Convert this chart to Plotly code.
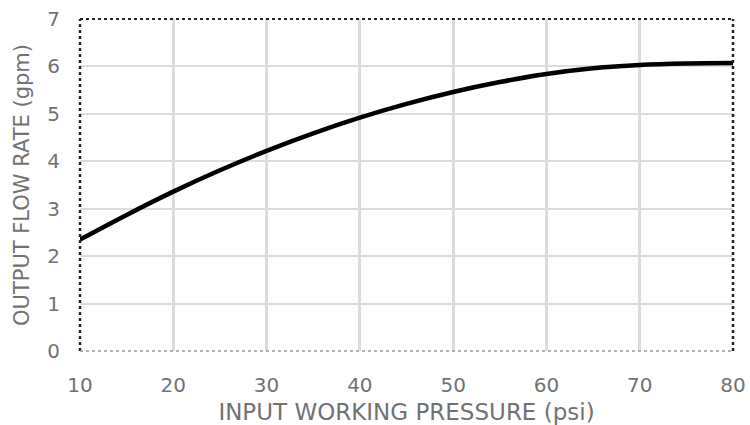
import plotly.graph_objects as go

pressure_psi = [10, 15, 20, 25, 30, 35, 40, 45, 50, 55, 60, 65, 70, 75, 80]
flow_gpm = [2.35, 2.87, 3.36, 3.81, 4.22, 4.59, 4.92, 5.21, 5.46, 5.67, 5.84, 5.96, 6.03, 6.06, 6.07]

x_ticks = [10, 20, 30, 40, 50, 60, 70, 80]
y_ticks = [0, 1, 2, 3, 4, 5, 6, 7]

FONT = "DejaVu Sans"
TXT = "#727272"

fig = go.Figure()
fig.add_trace(go.Scatter(
    x=pressure_psi, y=flow_gpm, mode="lines",
    line=dict(color="black", width=4.5, shape="spline"),
    hoverinfo="skip", showlegend=False,
))

fig.update_layout(
    width=750, height=425,
    margin=dict(l=80, r=17, t=19, b=74),
    paper_bgcolor="white", plot_bgcolor="white",
    font=dict(family=FONT, color=TXT, size=20),
    xaxis=dict(
        range=[10, 80], tickvals=x_ticks, showgrid=True, automargin=False,
        gridcolor="#dcdcdc", gridwidth=3, zeroline=False, showline=False,
        ticklabelstandoff=20, ticklabeloverflow="allow", tickfont=dict(size=20, color=TXT),
        title=dict(text="INPUT WORKING PRESSURE (psi)", font=dict(size=23, color=TXT), standoff=14),
    ),
    yaxis=dict(
        range=[0, 7], tickvals=y_ticks, showgrid=True, automargin=False,
        gridcolor="#dcdcdc", gridwidth=2, zeroline=False, showline=False,
        ticklabelstandoff=19, ticklabeloverflow="allow", tickfont=dict(size=20, color=TXT),
        title=dict(text="OUTPUT FLOW RATE (gpm)", font=dict(size=21, color=TXT), standoff=11),
    ),
    shapes=[
        dict(type="line", xref="paper", yref="paper", x0=0, x1=1, y0=1, y1=1,
             line=dict(color="#222", width=2, dash="dot")),
        dict(type="line", xref="paper", yref="paper", x0=0, x1=0, y0=0, y1=1,
             line=dict(color="#222", width=2.5, dash="dot")),
        dict(type="line", xref="paper", yref="paper", x0=1, x1=1, y0=0, y1=1,
             line=dict(color="#222", width=2.5, dash="dot")),
        dict(type="line", xref="paper", yref="paper", x0=0, x1=1, y0=0, y1=0,
             line=dict(color="#9a9a9a", width=1.5, dash="dot")),
    ],
)

fig.write_html(
    "out.html",
    config={"displayModeBar": False},
    post_script="document.body.style.margin='0px';document.body.style.overflow='hidden';",
)
